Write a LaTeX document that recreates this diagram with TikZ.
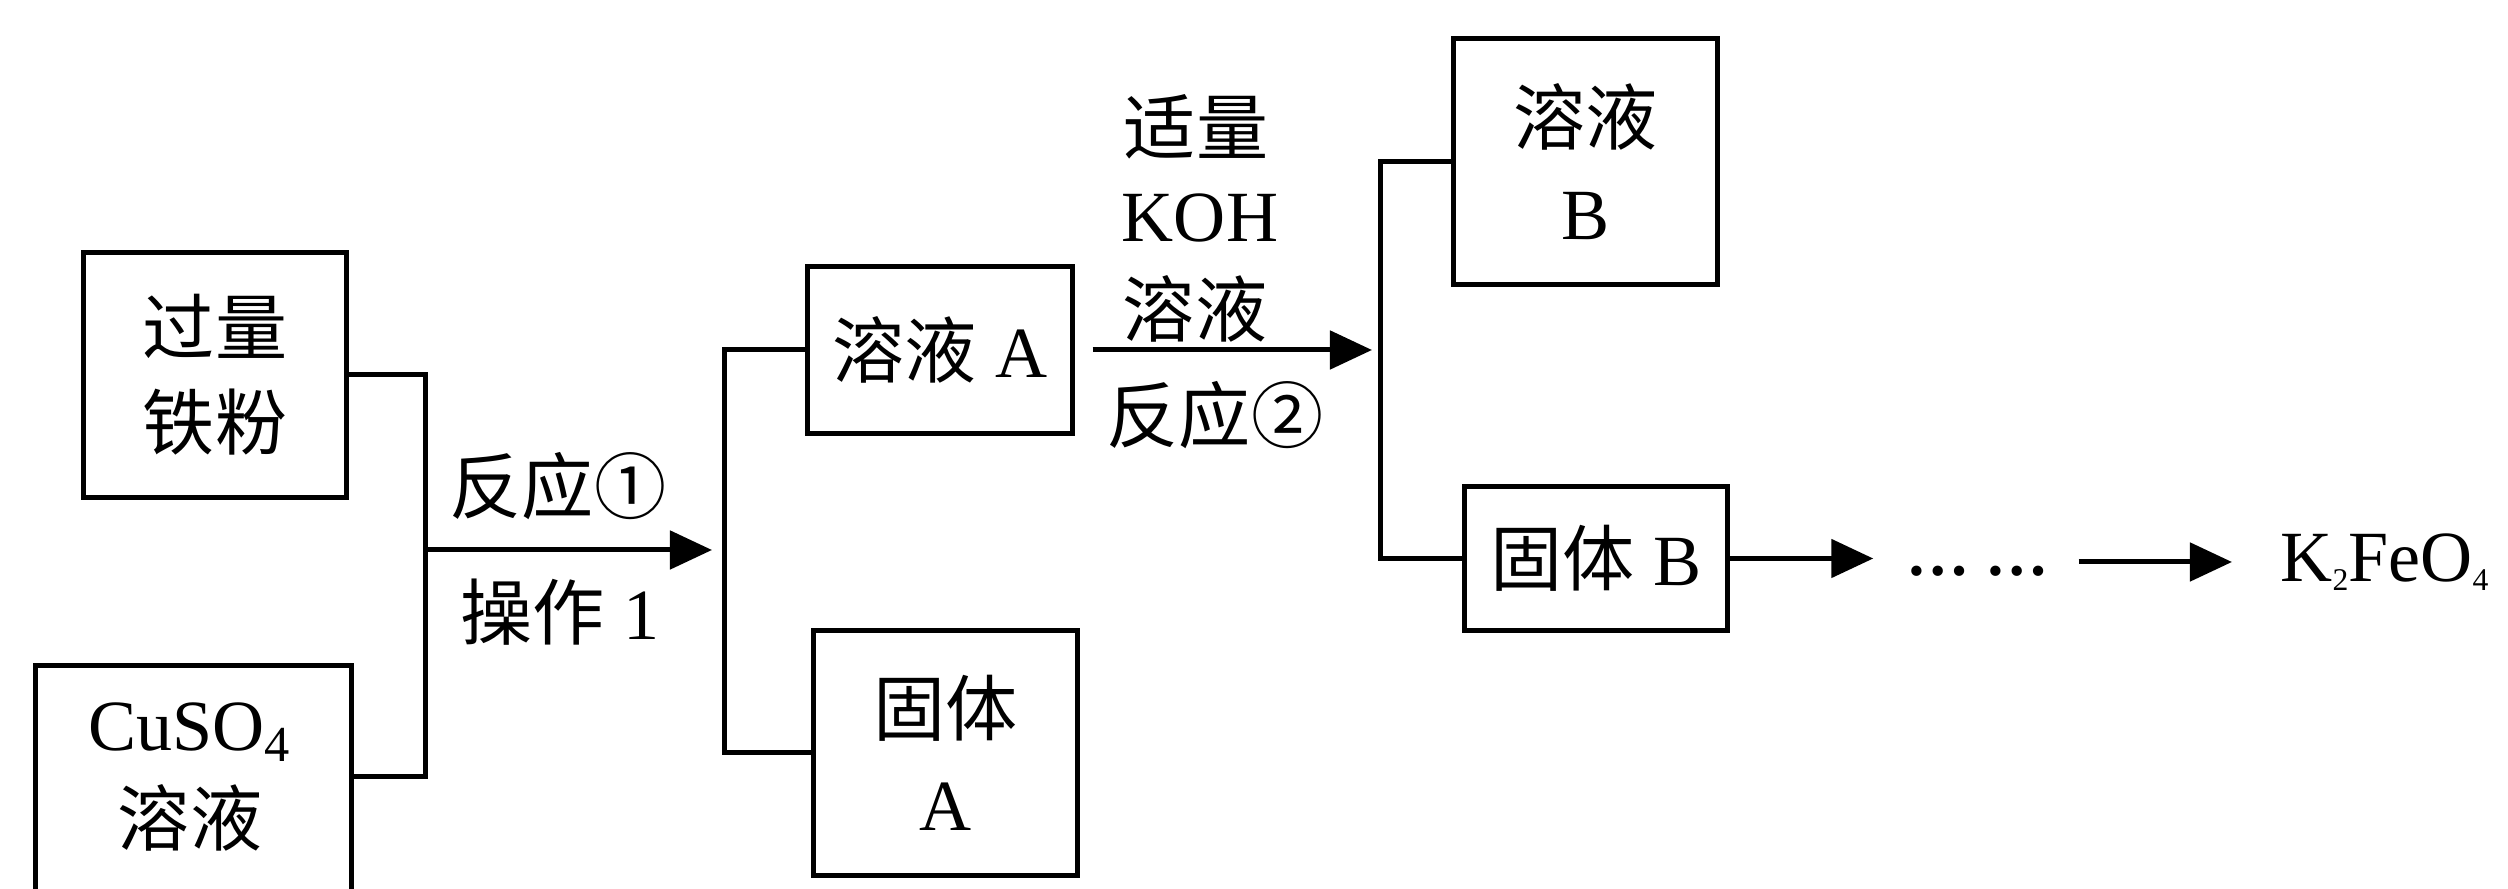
\documentclass[tikz,border=0pt]{standalone}
\usepackage{fontspec}
\setmainfont{Liberation Serif}
\newfontfamily\cjkfont{Noto Sans CJK SC}
\newcommand\zhtext[1]{{\cjkfont #1}}
\newcommand\tinysub[1]{\raisebox{-0.12em}{\fontsize{9pt}{9pt}\selectfont #1}}
\usetikzlibrary{arrows.meta}
\begin{document}
\begin{tikzpicture}[x=0.01cm,y=-0.01cm, line width=0.05cm,
  box/.style={draw, line width=0.05cm, inner sep=0pt, align=center},
  txt/.style={inner sep=0pt, align=center},
  arr/.style={-{Triangle[length=0.42cm,width=0.38cm]}},
  font=\fontsize{20.5pt}{27pt}\selectfont]
\useasboundingbox (0,0) rectangle (2508,889);
\clip (0,0) rectangle (2508,889);

% boxes
\node[box, minimum width=2.62cm, minimum height=2.44cm] (fe) at (215,375) {\zhtext{过量}\\\zhtext{铁粉}};
\node[box, minimum width=3.15cm, minimum height=3cm, anchor=north] (cu) at (193.5,663) {};
\node[txt] (cuT) at (190,777) {CuSO\textsubscript{4}\\\zhtext{溶液}};
\node[box, minimum width=2.64cm, minimum height=1.66cm] (sa) at (940,350) {\zhtext{溶液} A};
\node[box, minimum width=2.63cm, minimum height=2.44cm] (ga) at (945.5,753) {\zhtext{固体}\\A};
\node[box, minimum width=2.63cm, minimum height=2.45cm] (sb) at (1585.5,161.5) {\zhtext{溶液}\\B};
\node[box, minimum width=2.62cm, minimum height=1.43cm] (gb) at (1596,558.5) {\zhtext{固体} B};
\node[txt, anchor=base] (dots) at (1978,576) {\fontsize{18pt}{20pt}\selectfont\bfseries …\ …};
\node[txt, anchor=west] (k2) at (2278,562) {K\tinysub{2}FeO\tinysub{4}};

% junctions
\coordinate (j1) at (425,550);
\coordinate (j2) at (724,550);
\coordinate (j3) at (1380,350);

% labels
\node[txt] (r1) at (558,486) {\zhtext{反应①}};
\node[txt] (op1) at (560,612) {\zhtext{操作} 1};
\node[txt] (l1) at (1196,127) {\zhtext{适量}};
\node[txt] (l2) at (1200,218) {KOH};
\node[txt] (l3) at (1195,309) {\zhtext{溶液}};
\node[txt] (l4) at (1215,415) {\zhtext{反应②}};

% connectors
\draw (fe.east) -| (j1) |- (cu.east |- cuT);
\draw[arr, shorten >=0.12cm] (j1) -- (j2);
\draw (sa.west) -| (j2) |- (ga.west);
\draw[arr, shorten <=0.18cm, shorten >=0.08cm] (sa.east) -- (j3);
\draw (sb.west) -| (j3) |- (gb.west);
\draw[arr, shorten >=0.31cm] (gb.east) -- (gb.east -| dots.west);
\draw[arr, shorten <=0.27cm, shorten >=0.46cm] (dots.east |- k2.west) -- (k2.west);
\end{tikzpicture}
\end{document}
